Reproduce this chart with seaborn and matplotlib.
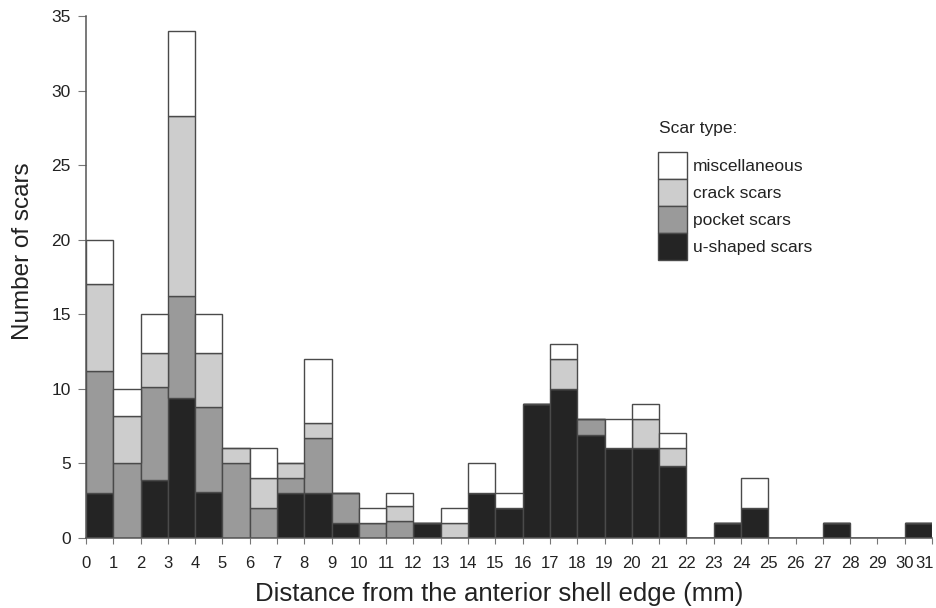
import numpy as np
import pandas as pd
import matplotlib
matplotlib.use("Agg")
import matplotlib.pyplot as plt
import matplotlib.transforms as mtransforms
from matplotlib.patches import Patch
import seaborn as sns

# Distance bins (mm), left edges 0..30, each 1 mm wide
bin_left = list(range(31))
tick_labels = [str(i) for i in range(32)]

# Scar counts per 1-mm bin, by scar type
u_shaped = [3, 0, 3.9, 9.4, 3.1, 0, 0, 3, 3, 1, 0, 0, 1, 0, 3, 2,
            9, 10, 6.9, 6, 6, 4.8, 0, 1, 2, 0, 0, 1, 0, 0, 1]
pocket = [8.2, 5, 6.2, 6.8, 5.7, 5, 2, 1, 3.7, 2, 1, 1.1, 0, 0, 0, 0,
          0, 0, 1.1, 0, 0, 0, 0, 0, 0, 0, 0, 0, 0, 0, 0]
crack = [5.8, 3.2, 2.3, 12.1, 3.6, 1, 2, 1, 1, 0, 0, 1, 0, 1, 0, 0,
         0, 2, 0, 0, 2, 1.2, 0, 0, 0, 0, 0, 0, 0, 0, 0]
misc = [3, 1.8, 2.6, 5.7, 2.6, 0, 2, 0, 4.3, 0, 1, 0.9, 0, 1, 2, 1,
        0, 1, 0, 2, 1, 1, 0, 0, 2, 0, 0, 0, 0, 0, 0]

types = ["miscellaneous", "crack scars", "pocket scars", "u-shaped scars"]
colors = ["#ffffff", "#cdcdcd", "#9a9a9a", "#242424"]

rows = []
for name, vals in zip(types, [misc, crack, pocket, u_shaped]):
    for left, v in zip(bin_left, vals):
        rows.append({"distance": left + 0.5, "type": name, "count": v})
df = pd.DataFrame(rows)

sns.set_style("white")
plt.rcParams["font.family"] = ["Liberation Sans", "DejaVu Sans"]

W, H = 937, 608
fig = plt.figure(figsize=(W / 100, H / 100), dpi=100)
ax = fig.add_axes([86 / W, (H - 537.7) / H, (932 - 86) / W, (537.7 - 16.2) / H])

sns.histplot(
    data=df, x="distance", weights="count", hue="type", hue_order=types,
    multiple="stack", bins=31, binrange=(0, 31), palette=colors, alpha=1,
    edgecolor="#4a4a4a", linewidth=1.0, legend=False, ax=ax,
)

ax.set_xlim(0, 31)
ax.set_ylim(0, 35)
ax.set_xticks(range(32))
ax.set_xticklabels(tick_labels, fontsize=12, color="#222222")
ax.set_yticks(range(0, 36, 5))
ax.set_yticklabels([str(v) for v in range(0, 36, 5)], fontsize=12.5, color="#222222")

for side in ["top", "right"]:
    ax.spines[side].set_visible(False)
for side in ["left", "bottom"]:
    ax.spines[side].set_color("#555555")
    ax.spines[side].set_linewidth(1.1)
ax.tick_params(axis="y", direction="out", length=6, width=0.8, color="#777777", pad=5, left=True)
ax.tick_params(axis="x", direction="out", length=4.5, width=0.8, color="#777777", pad=9, bottom=True)

# keep the last distance label inside the figure edge
last = ax.get_xticklabels()[-1]
last.set_transform(last.get_transform() +
                   mtransforms.ScaledTranslation(-7 / 100, 0, fig.dpi_scale_trans))

ax.set_xlabel("Distance from the anterior shell edge (mm)", fontsize=18.5, color="#222222")
ax.xaxis.set_label_coords((499 - 86) / (932 - 86), (537.7 - 594) / (537.7 - 16.2))
ax.xaxis.label.set_va("center")
ax.set_ylabel("Number of scars", fontsize=17.5, color="#222222")
ax.yaxis.set_label_coords((23 - 86) / (932 - 86), (537.7 - 251) / (537.7 - 16.2))
ax.yaxis.label.set_va("center")

handles = [Patch(facecolor=c, edgecolor="#4a4a4a", linewidth=1.0) for c in colors]
fs = 12.5
fs_px = fs * 100 / 72
row_px = 27
hh = (row_px / fs_px - 0.245) / 0.65
leg = ax.legend(
    handles, types, loc="upper left",
    bbox_to_anchor=(658 / W, 1 - 152 / H), bbox_transform=fig.transFigure,
    frameon=False, fontsize=fs, labelspacing=0,
    handleheight=hh, handlelength=29 / fs_px, handletextpad=0.35,
    borderpad=0, borderaxespad=0,
)
for t in leg.get_texts():
    t.set_color("#222222")
fig.text(659 / W, 1 - 121 / H, "Scar type:", fontsize=fs, color="#222222",
         ha="left", va="top")

fig.savefig("out.png", dpi=100, facecolor="white")
